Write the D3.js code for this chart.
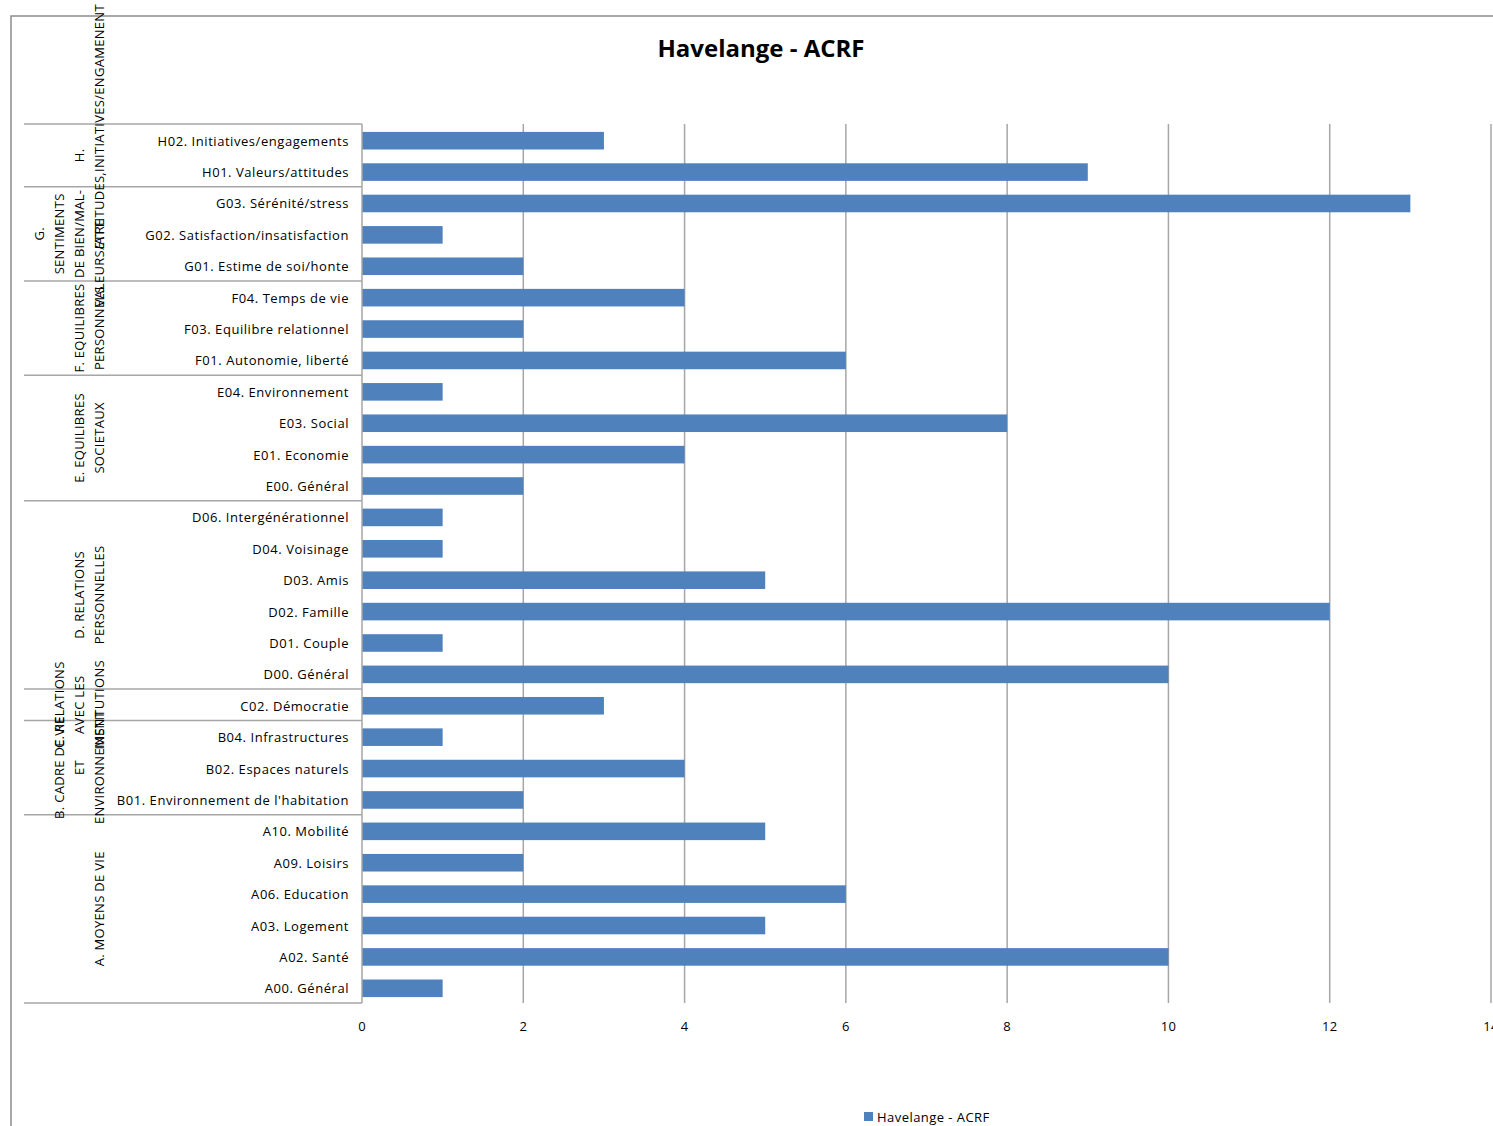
<!DOCTYPE html>
<html>
<head>
<meta charset="utf-8">
<script src="https://cdnjs.cloudflare.com/ajax/libs/d3/7.8.5/d3.min.js"></script>
<style>
  body { margin: 0; background: #fff; }
  svg text { font-family: "Open Sans", "Noto Sans", sans-serif; fill: #000; }
</style>
</head>
<body>
<div id="chart"></div>
<script>
// categories, top to bottom as drawn
const categories = [
  "H02. Initiatives/engagements", "H01. Valeurs/attitudes",
  "G03. Sérénité/stress", "G02. Satisfaction/insatisfaction", "G01. Estime de soi/honte",
  "F04. Temps de vie", "F03. Equilibre relationnel", "F01. Autonomie, liberté",
  "E04. Environnement", "E03. Social", "E01. Economie", "E00. Général",
  "D06. Intergénérationnel", "D04. Voisinage", "D03. Amis", "D02. Famille", "D01. Couple", "D00. Général",
  "C02. Démocratie",
  "B04. Infrastructures", "B02. Espaces naturels", "B01. Environnement de l'habitation",
  "A10. Mobilité", "A09. Loisirs", "A06. Education", "A03. Logement", "A02. Santé", "A00. Général"
];
const values = [3, 9, 13, 1, 2, 4, 2, 6, 1, 8, 4, 2, 1, 1, 5, 12, 1, 10, 3, 1, 4, 2, 5, 2, 6, 5, 10, 1];

// outer category groups (label lines, number of categories)
const groupLabels = [
  ["H.", "VALEURS/ATTITUDES,INITIATIVES/ENGAMENENT"],
  ["G.", "SENTIMENTS", "DE BIEN/MAL-", "ETRE"],
  ["F. EQUILIBRES", "PERSONNELS"],
  ["E. EQUILIBRES", "SOCIETAUX"],
  ["D. RELATIONS", "PERSONNELLES"],
  ["C. RELATIONS", "AVEC LES", "INSTITUTIONS"],
  ["B. CADRE DE VIE", "ET", "ENVIRONNEMENT"],
  ["A. MOYENS DE VIE"]
];
const groupSizes = [2, 3, 3, 4, 6, 1, 3, 6];

const xTicks = [0, 2, 4, 6, 8, 10, 12, 14];
const title = "Havelange - ACRF";
const seriesName = "Havelange - ACRF";

const width = 1493, height = 1126;
const margin = { top: 124, right: 2, bottom: 123, left: 362 };
const color = "#4f81bd", gridColor = "#a6a6a6";

const svg = d3.select("#chart")
  .append("svg")
  .attr("width", width)
  .attr("height", height);

// chart area frame
svg.append("path")
  .attr("d", `M11,${height}V16H${width}`)
  .attr("fill", "none")
  .attr("stroke", "#8c8c8c")
  .attr("stroke-width", 1.5);

const x = d3.scaleLinear()
  .domain([0, 14])
  .range([margin.left, 1491]);

const y = d3.scaleBand()
  .domain(categories)
  .range([margin.top, height - margin.bottom])
  .paddingInner(0.44)
  .paddingOuter(0.22);

const bottom = height - margin.bottom;

// gridlines
svg.append("g")
  .selectAll("line")
  .data(xTicks.slice(1))
  .join("line")
  .attr("x1", d => x(d)).attr("x2", d => x(d))
  .attr("y1", margin.top).attr("y2", bottom)
  .attr("stroke", gridColor)
  .attr("stroke-width", 1.5);

// tick labels
svg.append("g")
  .selectAll("text")
  .data(xTicks)
  .join("text")
  .attr("x", d => x(d))
  .attr("y", 1026)
  .attr("text-anchor", "middle")
  .attr("dominant-baseline", "central")
  .style("font-size", "13px")
  .style("letter-spacing", "0.3px")
  .text(d => d);

// bars
svg.append("g")
  .selectAll("rect")
  .data(categories)
  .join("rect")
  .attr("x", x(0))
  .attr("y", d => y(d) + 1)
  .attr("width", (d, i) => x(values[i]) - x(0))
  .attr("height", y.bandwidth())
  .attr("fill", color);

// vertical axis line
svg.append("line")
  .attr("x1", x(0)).attr("x2", x(0))
  .attr("y1", margin.top).attr("y2", bottom)
  .attr("stroke", gridColor)
  .attr("stroke-width", 1.5);

// category labels
svg.append("g")
  .selectAll("text")
  .data(categories)
  .join("text")
  .attr("x", 349)
  .attr("y", d => y(d) + y.bandwidth() / 2 + 1)
  .attr("text-anchor", "end")
  .attr("dominant-baseline", "central")
  .style("font-size", "13px")
  .style("letter-spacing", "0.55px")
  .text(d => d);

// group separators and labels
const step = y.step();
let start = 0;
const bounds = [0];
groupSizes.forEach(n => { start += n; bounds.push(start); });

svg.append("g")
  .selectAll("line")
  .data(bounds)
  .join("line")
  .attr("x1", 24).attr("x2", x(0))
  .attr("y1", d => margin.top + d * step)
  .attr("y2", d => margin.top + d * step)
  .attr("stroke", gridColor)
  .attr("stroke-width", 1.5);

groupLabels.forEach((lines, g) => {
  const cy = margin.top + (bounds[g] + bounds[g + 1]) / 2 * step;
  lines.forEach((t, k) => {
    const cx = 99 - (lines.length - 1 - k) * 20;
    svg.append("text")
      .attr("transform", `translate(${cx},${cy}) rotate(-90)`)
      .attr("text-anchor", "middle")
      .attr("dominant-baseline", "central")
      .style("font-size", "13px")
      .style("letter-spacing", "0.3px")
      .text(t);
  });
});

// title
svg.append("text")
  .attr("x", 761)
  .attr("y", 47)
  .attr("text-anchor", "middle")
  .attr("dominant-baseline", "central")
  .style("font-size", "24px")
  .style("font-weight", "bold")
  .text(title);

// legend
svg.append("rect")
  .attr("x", 864).attr("y", 1112)
  .attr("width", 9).attr("height", 9)
  .attr("fill", color);
svg.append("text")
  .attr("x", 877).attr("y", 1117)
  .attr("dominant-baseline", "central")
  .style("font-size", "13px")
  .style("letter-spacing", "0.45px")
  .text(seriesName);
</script>
</body>
</html>
